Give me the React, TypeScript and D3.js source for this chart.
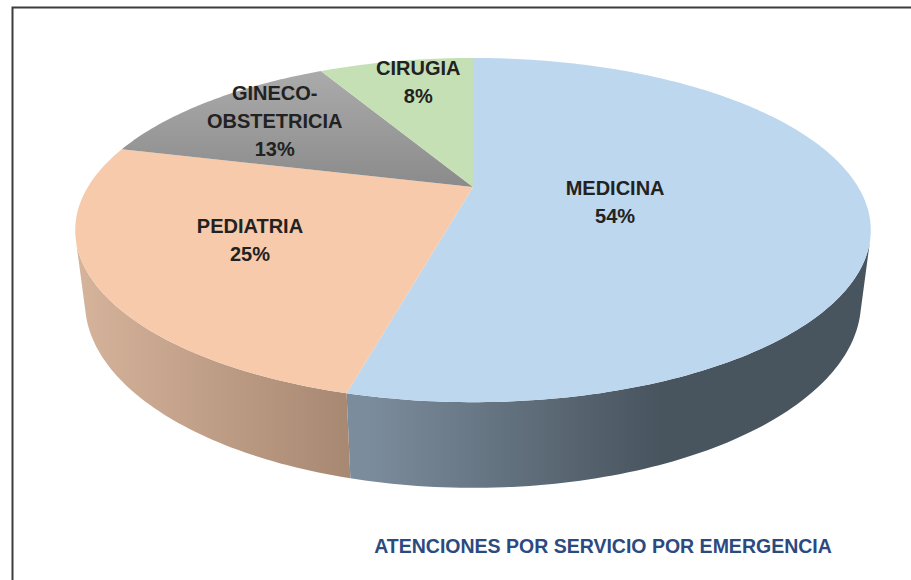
import { useEffect, useRef } from "react"
import * as d3 from "d3"

// data
const categories = ["MEDICINA", "PEDIATRIA", "GINECO-OBSTETRICIA", "CIRUGIA"]
const labelLines = [["MEDICINA"], ["PEDIATRIA"], ["GINECO-", "OBSTETRICIA"], ["CIRUGIA"]]
const values = [54, 25, 13, 8]
const title = "ATENCIONES POR SERVICIO POR EMERGENCIA"

// styles
const topColors = ["#bdd7ee", "#f6caab", "url(#gTopGray)", "#c5e0b4"]
const wallColors = ["url(#gWallBlue)", "url(#gWallOrange)", "#8c8c8c", "#9fb890"]
// pixel nudges for the data labels (Excel puts them off the mid ray)
const labelNudge: [number, number][] = [[-52, 5], [-46, 9], [-57, -20], [-12, -35]]

const width = 911
const height = 580

// perspective camera fitted to the picture
const cx = 473
const cy = 187
const F = 1398
const D = 3.63
const sinA = 0.419
const cosA = 0.908
const T = 0.204

const project = (theta: number, r: number, level: number): [number, number] => {
  const X = r * Math.sin(theta)
  const Z = -r * Math.cos(theta)
  const Y = -T * level
  const depth = D - Y * sinA - Z * cosA
  const yc = Y * cosA - Z * sinA
  return [cx + (F * X) / depth, cy - (F * yc) / depth]
}

const arcPoints = (a0: number, a1: number, level: number) => {
  const n = Math.max(2, Math.ceil(((a1 - a0) * 180) / Math.PI))
  return d3.range(n + 1).map(i => project(a0 + ((a1 - a0) * i) / n, 1, level))
}

const Chart = () => {
  const svgRef = useRef<SVGSVGElement>(null)

  useEffect(() => {
    const svg = d3.select(svgRef.current)
    svg.selectAll("*").remove()

    const defs = svg.append("defs")
    const grad = (id: string, x1: number, x2: number, stops: [number, string][], vertical = false) => {
      const g = defs.append("linearGradient")
        .attr("id", id)
        .attr("gradientUnits", "userSpaceOnUse")
      if (vertical) g.attr("x1", 0).attr("x2", 0).attr("y1", x1).attr("y2", x2)
      else g.attr("x1", x1).attr("x2", x2).attr("y1", 0).attr("y2", 0)
      g.selectAll("stop").data(stops).join("stop")
        .attr("offset", d => d[0])
        .attr("stop-color", d => d[1])
    }
    grad("gWallBlue", 368, 660, [[0, "#7b8c9c"], [1, "#48545e"]])
    grad("gWallOrange", 78, 368, [[0, "#d6b39b"], [1, "#a4856f"]])
    grad("gTopGray", 70, 190, [[0, "#ababab"], [1, "#8a8a8a"]], true)

    const pie = d3.pie<number>().sort(null).startAngle(0).endAngle(2 * Math.PI)
    const arcs = pie(values)

    // frame
    svg.append("path")
      .attr("d", `M12.5,${height} V7.5 H${width}`)
      .attr("fill", "none")
      .attr("stroke", "#3c3c3c")
      .attr("stroke-width", 2)

    const line = d3.line()

    // visible part of the side wall
    const vis = Math.acos(-1 / (D * cosA))
    const visLo = vis
    const visHi = 2 * Math.PI - vis

    svg.append("g")
      .selectAll("path")
      .data(arcs)
      .join("path")
      .attr("d", d => {
        const lo = Math.max(d.startAngle, visLo)
        const hi = Math.min(d.endAngle, visHi)
        if (lo >= hi) return null
        const pts = [...arcPoints(lo, hi, 0), ...arcPoints(lo, hi, 1).reverse()]
        return line(pts) + "Z"
      })
      .attr("fill", (d, i) => wallColors[i])

    svg.append("g")
      .selectAll("path")
      .data(arcs)
      .join("path")
      .attr("d", d => line([project(0, 0, 0), ...arcPoints(d.startAngle, d.endAngle, 0)]) + "Z")
      .attr("fill", (d, i) => topColors[i])

    // labels
    const lh = 28
    const labels = svg.append("g")
      .attr("font-family", "'Liberation Sans', Arial, sans-serif")
      .attr("font-weight", "bold")
      .attr("font-size", 20)
      .attr("fill", "#222")
      .attr("text-anchor", "middle")
    arcs.forEach((d, i) => {
      const mid = (d.startAngle + d.endAngle) / 2
      const [px, py] = project(mid, 0.5, 0)
      const x = px + labelNudge[i][0]
      const y = py + labelNudge[i][1]
      const lines = [...labelLines[i], `${values[i]}%`]
      const y0 = y - ((lines.length - 1) * lh) / 2
      labels.append("text")
        .attr("aria-label", categories[i])
        .selectAll("tspan")
        .data(lines)
        .join("tspan")
        .attr("x", x)
        .attr("y", (t, j) => y0 + j * lh)
        .attr("dy", "0.35em")
        .text(t => t)
    })

    svg.append("text")
      .attr("x", 603)
      .attr("y", 546)
      .attr("dy", "0.35em")
      .attr("text-anchor", "middle")
      .attr("font-family", "'Liberation Sans', Arial, sans-serif")
      .attr("font-weight", "bold")
      .attr("font-size", 19.5)
      .attr("fill", "#2b4a80")
      .text(title)
  }, [])

  return <svg ref={svgRef} width={width} height={height} style={{ display: "block" }} />
}

export default function App() {
  return (
    <div style={{ position: "absolute", left: 0, top: 0 }}>
      <Chart />
    </div>
  )
}
